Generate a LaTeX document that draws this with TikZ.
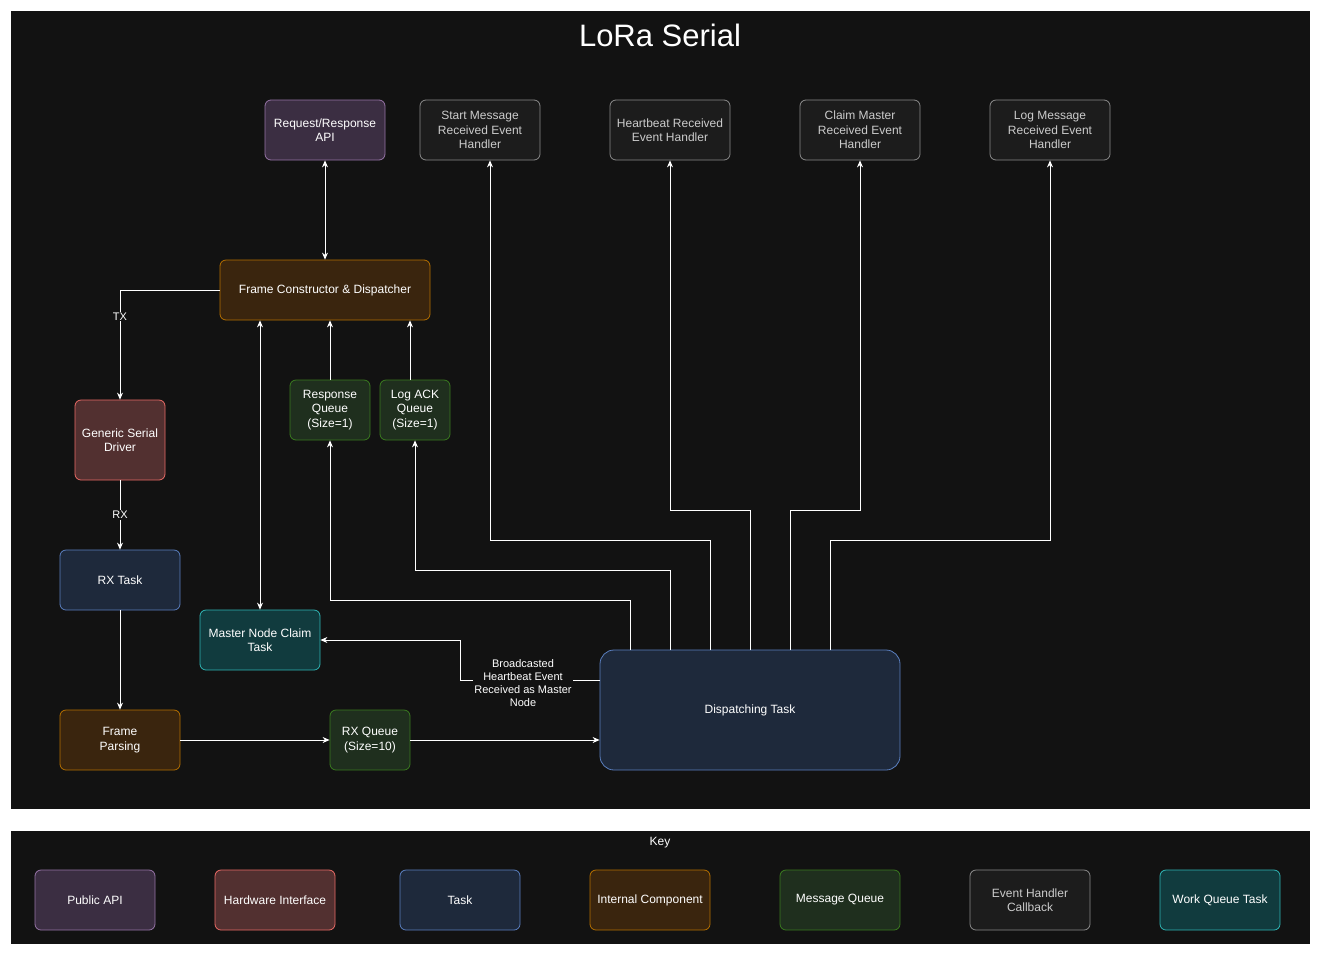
\documentclass[tikz,border=0pt]{standalone}
\usepackage{fontspec}
\setmainfont{Liberation Sans}
\usetikzlibrary{arrows.meta}
\definecolor{bg}{HTML}{121212}
\definecolor{apiF}{HTML}{3B2E42}\definecolor{apiD}{HTML}{9673A6}
\definecolor{hwF}{HTML}{523030}\definecolor{hwD}{HTML}{EA6B66}
\definecolor{tkF}{HTML}{1E293B}\definecolor{tkD}{HTML}{5A7FBF}
\definecolor{icF}{HTML}{3A250E}\definecolor{icD}{HTML}{B46F00}
\definecolor{mqF}{HTML}{1F2F1E}\definecolor{mqD}{HTML}{3A7A20}
\definecolor{evF}{HTML}{1C1C1C}\definecolor{evD}{HTML}{8A8A8A}
\definecolor{wqF}{HTML}{113B3E}\definecolor{wqD}{HTML}{2FB5B5}
\tikzset{
 box/.style={draw,rounded corners=6pt,align=center,inner sep=1pt,font=\fontsize{12}{14.5}\selectfont,text=white,line width=0.8pt},
 api/.style={box,fill=apiF,draw=apiD},
 hw/.style={box,fill=hwF,draw=hwD},
 tk/.style={box,fill=tkF,draw=tkD},
 ic/.style={box,fill=icF,draw=icD},
 mq/.style={box,fill=mqF,draw=mqD},
 ev/.style={box,fill=evF,draw=evD,text=black!20},
 wq/.style={box,fill=wqF,draw=wqD},
 sz/.style n args={2}{minimum width=#1pt,minimum height=#2pt},
 con/.style={draw=white,line width=0.8pt,-{Stealth[length=7pt,width=6pt]}},
 bicon/.style={draw=white,line width=0.8pt,{Stealth[length=7pt,width=6pt]}-{Stealth[length=7pt,width=6pt]}},
 lab/.style={fill=bg,text=white,font=\fontsize{11}{13}\selectfont,inner sep=1pt,align=center}
}
\begin{document}
\begin{tikzpicture}[x=1pt,y=-1pt]
\useasboundingbox[fill=white] (0,0) rectangle (1321,956);
\fill[bg] (11,11) rectangle (1310,809);
\fill[bg] (11,831) rectangle (1310,944);
\node[text=white,font=\fontsize{31}{36}\selectfont] (title) at (660,35) {LoRa Serial};
% nodes
\node[api,sz={120}{60}] (api) at (325,130) {Request/Response\\API};
\node[ev,sz={120}{60}] (start) at (480,130) {Start Message\\Received Event\\Handler};
\node[ev,sz={120}{60}] (hb) at (670,130) {Heartbeat Received\\Event Handler};
\node[ev,sz={120}{60}] (claim) at (860,130) {Claim Master\\Received Event\\Handler};
\node[ev,sz={120}{60}] (log) at (1050,130) {Log Message\\Received Event\\Handler};
\node[ic,sz={210}{60}] (fcd) at (325,290) {Frame Constructor \& Dispatcher};
\node[hw,sz={90}{80}] (gsd) at (120,440) {Generic Serial\\Driver};
\node[mq,sz={80}{60}] (rq) at (330,410) {Response\\Queue\\(Size=1)};
\node[mq,sz={70}{60}] (lq) at (415,410) {Log ACK\\Queue\\(Size=1)};
\node[tk,sz={120}{60}] (rxt) at (120,580) {RX Task};
\node[wq,sz={120}{60}] (mnc) at (260,640) {Master Node Claim\\Task};
\node[ic,sz={120}{60}] (fp) at (120,740) {Frame\\Parsing};
\node[mq,sz={80}{60}] (rxq) at (370,740) {RX Queue\\(Size=10)};
\node[tk,sz={300}{120},rounded corners=14pt] (disp) at (750,710) {Dispatching Task};
% connectors
\draw[bicon] (api) -- (fcd);
\draw[con] (fcd.west) -| node[lab,pos=0.62]{TX} (gsd.north);
\draw[con] (gsd) -- node[lab]{RX} (rxt);
\draw[con] (rxt) -- (fp);
\draw[con] (fp) -- (rxq);
\draw[con] (rxq) -- (disp.west |- rxq.east);
\draw[con] (rq) -- (rq.north |- fcd.south);
\draw[con] ([xshift=-5pt]lq.north) -- ([xshift=-5pt]lq.north |- fcd.south);
\draw[bicon] (mnc.north) -- (mnc.north |- fcd.south);
\coordinate (d1) at (630,650);\coordinate (d2) at (670,650);\coordinate (d3) at (710,650);
\coordinate (d4) at (750,650);\coordinate (d5) at (790,650);\coordinate (d6) at (830,650);
\draw[con] (d1) |- (330,600) -- (rq.south);
\draw[con] (d2) |- (415,570) -- (lq.south);
\draw[con] (d3) |- (490,540) -- (start.south -| 490,0);
\draw[con] (d4) |- (670,510) -- (hb.south);
\draw[con] (d5) |- (860,510) -- (claim.south);
\draw[con] (d6) |- (1050,540) -- (log.south);
\draw[con] (600,680) -- (460,680) -- (460,640) -- (mnc.east);
\node[lab] (bcl) at (523,683) {Broadcasted\\Heartbeat Event\\Received as Master\\Node};
% key
\node[text=white,font=\fontsize{12}{14}\selectfont] (key) at (660,843) {Key};
\node[api,sz={120}{60}] (k1) at (95,900) {Public API};
\node[hw,sz={120}{60}] (k2) at (275,900) {Hardware Interface};
\node[tk,sz={120}{60}] (k3) at (460,900) {Task};
\node[ic,sz={120}{60}] (k4) at (650,900) {Internal Component};
\node[mq,sz={120}{60}] (k5) at (840,900) {Message Queue};
\node[ev,sz={120}{60}] (k6) at (1030,900) {Event Handler\\Callback};
\node[wq,sz={120}{60}] (k7) at (1220,900) {Work Queue Task};
\end{tikzpicture}
\end{document}
